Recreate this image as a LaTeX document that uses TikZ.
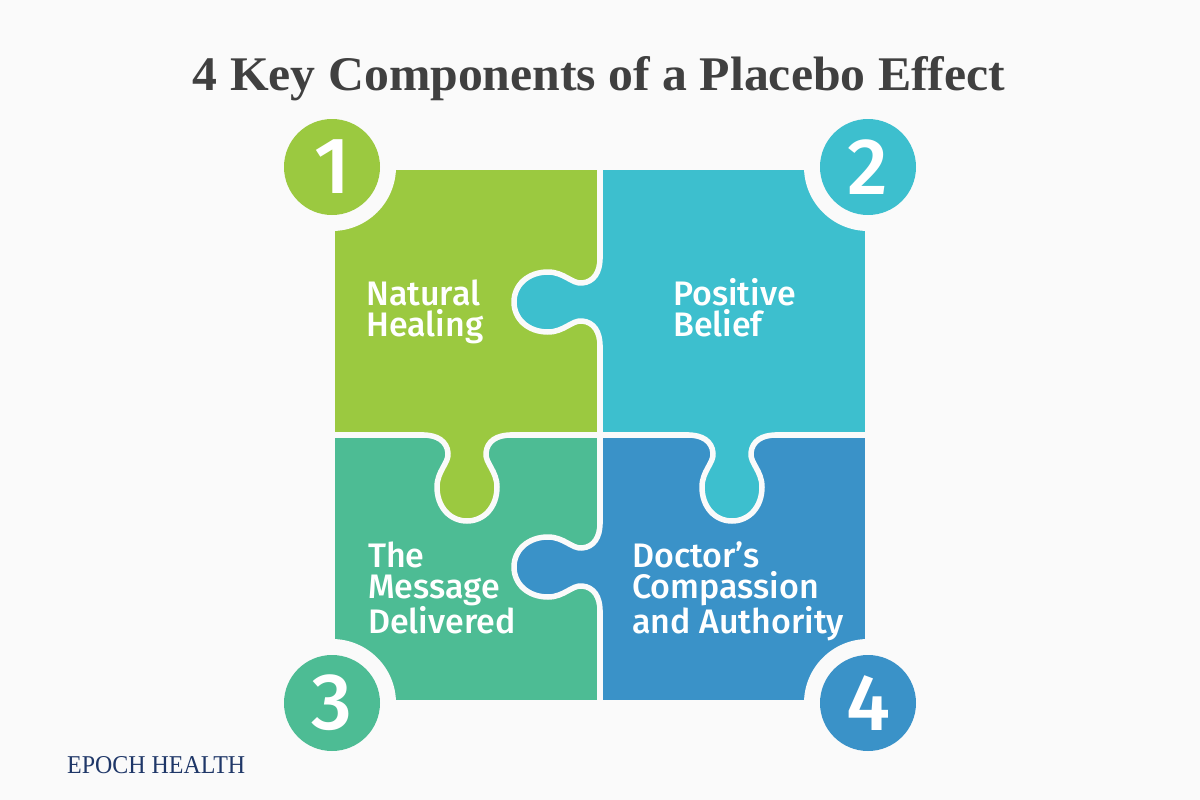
\documentclass[tikz,border=0pt]{standalone}
\usepackage{graphicx}
\usepackage{fontspec}
\setmainfont{Liberation Serif}
\newfontfamily\labfont{Fira Sans Medium}
\definecolor{bg}{HTML}{FAFAFA}
\definecolor{pgreen}{HTML}{9BC940}
\definecolor{pcyan}{HTML}{3DBFCE}
\definecolor{pteal}{HTML}{4DBC94}
\definecolor{pblue}{HTML}{3A92C8}
\definecolor{titlegray}{HTML}{404040}
\definecolor{navy}{HTML}{1F3768}
\def\tabcurve{.. controls (0,-30) and (6,-20) .. (18,-19) .. controls (28,-18) and (36,-30) .. (52,-30) .. controls (72,-30) and (86,-17) .. (86,0) .. controls (86,17) and (72,30) .. (52,30) .. controls (36,30) and (28,18) .. (18,19) .. controls (6,20) and (0,30) .. (0,44)}
\newcommand\tabfill[2]{\begin{scope}[#1]\fill[#2] (0,-44) \tabcurve -- cycle;\end{scope}}
\newcommand\tabline[1]{\begin{scope}[#1]\draw[gapline] (0,-44) \tabcurve;\end{scope}}
\begin{document}
\begin{tikzpicture}[x=1pt,y=-1pt,
  gapline/.style={draw=bg, line width=5.5pt, line cap=round, line join=round},
  lab/.style={text=white, font=\labfont\fontsize{34}{31}\selectfont, inner sep=0, anchor=base west},
  num/.style={circle, inner sep=0, minimum size=96pt, text=white, font=\labfont\fontsize{80}{80}\selectfont},
  cut/.style={circle, fill=bg, inner sep=0, minimum size=128pt}]
\fill[bg] (0,0) rectangle (1200,800);
\useasboundingbox (0,0) rectangle (1200,800);
% pieces
\fill[pgreen] (335,170) rectangle (600,435);
\fill[pcyan] (600,170) rectangle (865,435);
\fill[pteal] (335,435) rectangle (600,700);
\fill[pblue] (600,435) rectangle (865,700);
% tabs
\tabfill{shift={(600,302)},x={(-1pt,0pt)},y={(0pt,-1pt)}}{pcyan}
\tabfill{shift={(600,567)},x={(-1pt,0pt)},y={(0pt,-1pt)}}{pblue}
\tabfill{shift={(467,435)},x={(0pt,-1pt)},y={(1pt,0pt)}}{pgreen}
\tabfill{shift={(732,435)},x={(0pt,-1pt)},y={(1pt,0pt)}}{pcyan}
% gaps
\draw[gapline] (600,165) -- (600,258);
\draw[gapline] (600,346) -- (600,523);
\draw[gapline] (600,611) -- (600,705);
\draw[gapline] (330,435) -- (423,435);
\draw[gapline] (511,435) -- (688,435);
\draw[gapline] (776,435) -- (870,435);
\tabline{shift={(600,302)},x={(-1pt,0pt)},y={(0pt,-1pt)}}
\tabline{shift={(600,567)},x={(-1pt,0pt)},y={(0pt,-1pt)}}
\tabline{shift={(467,435)},x={(0pt,-1pt)},y={(1pt,0pt)}}
\tabline{shift={(732,435)},x={(0pt,-1pt)},y={(1pt,0pt)}}
% corner badges
\node[cut] (k1) at (332,167) {};
\node[cut] (k2) at (868,167) {};
\node[cut] (k3) at (332,703) {};
\node[cut] (k4) at (868,703) {};
\node[num, fill=pgreen] (c1) at (332,167) {1};
\node[num, fill=pcyan] (c2) at (868,167) {2};
\node[num, fill=pteal] (c3) at (332,703) {3};
\node[num, fill=pblue] (c4) at (868,703) {4};
% labels
\node[lab] (t1) at (366,305) {\vtop{\hbox{Natural}\hbox{Healing}}};
\node[lab] (t2) at (673,305) {\vtop{\hbox{Positive}\hbox{Belief}}};
\node[lab] (t3) at (368,567) {\vtop{\hbox{The}\hbox{Message}\hbox{Delivered}}};
\node[lab] (t4) at (632,567) {\vtop{\hbox{Doctor’s}\hbox{Compassion}\hbox{and Authority}}};
% title and brand
\node[anchor=base, inner sep=0, text=titlegray] (title) at (599,91) {\resizebox{812pt}{34pt}{\bfseries 4 Key Components of a Placebo Effect}};
\node[anchor=base west, inner sep=0, text=navy] (brand) at (67,773) {\resizebox{178pt}{17pt}{EPOCH HEALTH}};
\end{tikzpicture}
\end{document}
